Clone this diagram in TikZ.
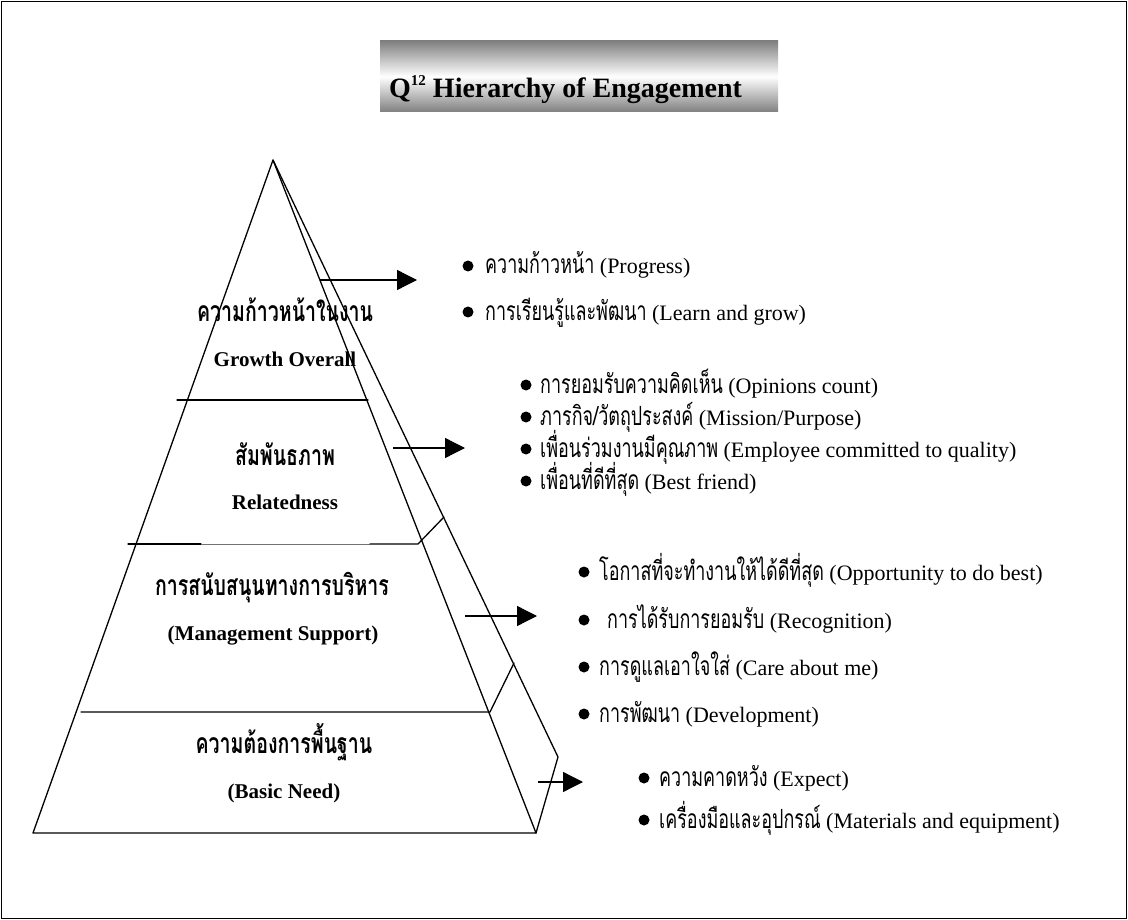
\documentclass[tikz,border=0pt]{standalone}
\usepackage{fontspec}
\setmainfont{Liberation Serif}
% condensed Thai faces: one for the list items, one for the layer labels
\newfontfamily\thai[Script=Thai,Scale=1.2,FakeStretch=0.68]{Loma}
\newfontfamily\thaib[Script=Thai,Scale=1.35,FakeStretch=0.69]{Loma}
\usetikzlibrary{arrows.meta}

\begin{document}
\begin{tikzpicture}[x=1pt,y=-1pt,
  edge/.style={line width=1.3pt, line cap=round, line join=round},
  faint/.style={line width=0.7pt, draw=black!55},
  pointer/.style={line width=1.3pt, -{Triangle[length=20pt,width=20pt]}},
  layer/.style={font=\fontsize{21}{25}\selectfont\bfseries, anchor=base, inner sep=0pt},
  item/.style={font=\fontsize{22}{26}\selectfont, anchor=base west, inner sep=0pt},
  bulletdot/.style={fill=black}
]
\useasboundingbox (0,0) rectangle (1128,920);
\draw[line width=1.2pt] (1.5,1.5) rectangle (1126.5,918.5);

% title banner
\node[minimum width=398pt, minimum height=71pt, inner sep=0pt,
      top color=black!50, bottom color=black!50, middle color=white,
      shading angle=0] (titlebox) at (579,76.5) {};
\node[anchor=base west, inner sep=0pt,
      font=\fontsize{28}{32}\selectfont\bfseries] (titletext) at (389,98)
  {Q\raisebox{12pt}{\fontsize{15}{18}\selectfont 12} Hierarchy of Engagement};

% pyramid outline
\coordinate (apex) at (273,160);
\coordinate (bl) at (33,833);
\coordinate (br) at (536,833);
\coordinate (bk) at (558,757);
\draw[edge] (bl) -- (apex) -- (br) -- cycle;
\draw[edge] (apex) -- (bk) -- (br);

% layer dividers
\draw[edge] (177,400) -- (368,400);
\draw[edge] (128,544) -- (201,544);
\draw[faint] (201,544) -- (370,544);
\draw[edge] (370,544) -- (418,544) -- (444,517);
\draw[edge] (81,712) -- (490,712) -- (514,663);

% layer labels
\node[layer] (l1th) at (285,321) {\thaib ความก้าวหน้าในงาน};
\node[layer] (l1en) at (285,366) {Growth Overall};
\node[layer] (l2th) at (285,465) {\thaib สัมพันธภาพ};
\node[layer] (l2en) at (285,509) {Relatedness};
\node[layer] (l3th) at (272,595) {\thaib การสนับสนุนทางการบริหาร};
\node[layer] (l3en) at (273,640) {(Management Support)};
\node[layer] (l4th) at (284,753) {\thaib ความต้องการพื้นฐาน};
\node[layer] (l4en) at (284,798) {(Basic Need)};

% arrow end points
\coordinate (a1s) at (320,280); \coordinate (a1e) at (417,280);
\coordinate (a2s) at (393,448); \coordinate (a2e) at (465,448);
\coordinate (a3s) at (465,616); \coordinate (a3e) at (537,616);
\coordinate (a4s) at (538,782); \coordinate (a4e) at (583,782);
\draw[pointer] (a1s) -- (a1e);
\draw[pointer] (a2s) -- (a2e);
\draw[pointer] (a3s) -- (a3e);
\draw[pointer] (a4s) -- (a4e);

% growth items
\fill[bulletdot] (468,266) circle (5.5pt);
\node[item] (g1a) at (485,274) {{\thai ความก้าวหน้า} (Progress)};
\fill[bulletdot] (468,312) circle (5.5pt);
\node[item] (g1b) at (485,320) {{\thai การเรียนรู้และพัฒนา} (Learn and grow)};

% relatedness items
\fill[bulletdot] (526,385) circle (5.5pt);
\node[item] (g2a) at (540,393) {{\thai การยอมรับความคิดเห็น} (Opinions count)};
\fill[bulletdot] (526,417) circle (5.5pt);
\node[item] (g2b) at (540,425) {{\thai ภารกิจ/วัตถุประสงค์} (Mission/Purpose)};
\fill[bulletdot] (526,449) circle (5.5pt);
\node[item] (g2c) at (540,457) {{\thai เพื่อนร่วมงานมีคุณภาพ} (Employee committed to quality)};
\fill[bulletdot] (526,481) circle (5.5pt);
\node[item] (g2d) at (540,489) {{\thai เพื่อนที่ดีที่สุด} (Best friend)};

% management support items
\fill[bulletdot] (584,572) circle (5.5pt);
\node[item] (g3a) at (599,580) {{\thai โอกาสที่จะทำงานให้ได้ดีที่สุด} (Opportunity to do best)};
\fill[bulletdot] (584,620) circle (5.5pt);
\node[item] (g3b) at (607,628) {{\thai การได้รับการยอมรับ} (Recognition)};
\fill[bulletdot] (584,667) circle (5.5pt);
\node[item] (g3c) at (599,675) {{\thai การดูแลเอาใจใส่} (Care about me)};
\fill[bulletdot] (584,714) circle (5.5pt);
\node[item] (g3d) at (599,722) {{\thai การพัฒนา} (Development)};

% basic need items
\fill[bulletdot] (644,778) circle (5.5pt);
\node[item] (g4a) at (659,786) {{\thai ความคาดหวัง} (Expect)};
\fill[bulletdot] (644,820) circle (5.5pt);
\node[item] (g4b) at (659,828) {{\thai เครื่องมือและอุปกรณ์} (Materials and equipment)};
\end{tikzpicture}
\end{document}
